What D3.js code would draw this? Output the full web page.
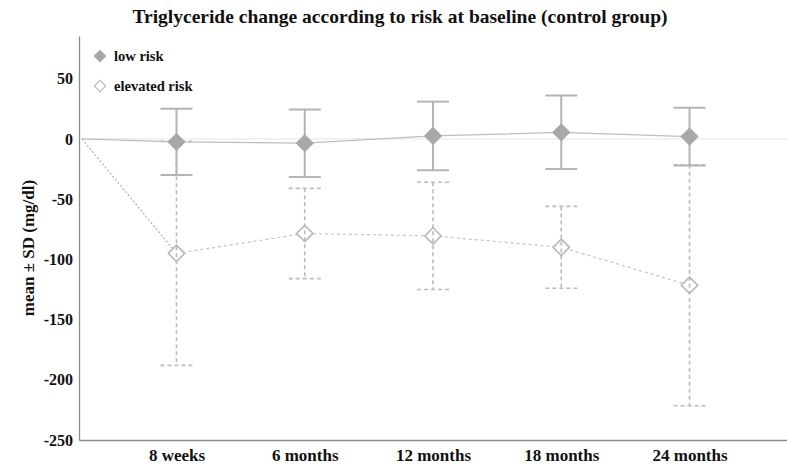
<!DOCTYPE html>
<html>
<head>
<meta charset="utf-8">
<script src="https://cdn.jsdelivr.net/npm/d3@7"></script>
<style>
  body { margin: 0; background: #fff; }
  text { font-family: "Liberation Serif", "Times New Roman", serif; fill: #111; }
</style>
</head>
<body>
<svg id="chart" width="787" height="469"></svg>
<script>
const categories = ['8 weeks', '6 months', '12 months', '18 months', '24 months']
const baselineValue = 0
const lowMean = [-2.5, -3.5, 2.5, 5.5, 2]
const lowSD = [27.5, 28, 28.5, 30.5, 24]
const elevMean = [-95, -78.5, -80.5, -90, -121.5]
const elevSD = [93, 37.5, 44.5, 34, 100]
const yTicks = [50, 0, -50, -100, -150, -200, -250]

const width = 787
const height = 469
const margin = { top: 36, right: 0, bottom: 29, left: 79 }

const svg = d3.select('#chart')

const x = d3.scalePoint()
    .domain(categories)
    .range([margin.left, width - margin.right])
    .padding(0.76)

const y = d3.scaleLinear()
    .domain([-250, 85.5])
    .range([height - margin.bottom, margin.top])

const x0 = margin.left + 3

// title
svg.append('text')
    .attr('x', 400)
    .attr('y', 23)
    .attr('text-anchor', 'middle')
    .style('font-size', '19.5px')
    .style('font-weight', 'bold')
    .text('Triglyceride change according to risk at baseline (control group)')

// y label
svg.append('text')
    .attr('transform', `translate(34, 248) rotate(-90)`)
    .attr('text-anchor', 'middle')
    .style('font-size', '17px')
    .style('font-weight', 'bold')
    .text('mean \u00b1 SD (mg/dl)')

// zero reference line
svg.append('line')
    .attr('x1', margin.left).attr('x2', width)
    .attr('y1', y(0)).attr('y2', y(0))
    .attr('stroke', '#e6e6e6').attr('stroke-width', 1)

// axes
const yAxis = svg.append('g')
    .attr('transform', `translate(${margin.left},0)`)
    .call(d3.axisLeft(y).tickValues(yTicks).tickFormat((d) => String(d)).tickSize(0).tickPadding(6))
yAxis.select('.domain').attr('stroke', '#8c8c8c').attr('stroke-width', 1.3)
yAxis.selectAll('text')
    .style('font-size', '16px')
    .style('font-weight', 'bold')
    .attr('fill', '#111')
    .style('font-family', '"Liberation Serif", serif')

const xAxis = svg.append('g')
    .attr('transform', `translate(0,${height - margin.bottom})`)
    .call(d3.axisBottom(x).tickSize(0).tickPadding(9))
xAxis.select('.domain').attr('stroke', '#8c8c8c').attr('stroke-width', 1.3)
xAxis.selectAll('text')
    .style('font-size', '17px')
    .style('font-weight', 'bold')
    .attr('fill', '#111')
    .style('font-family', '"Liberation Serif", serif')

const diamond = d3.symbol().type(d3.symbolDiamond2)

const lowData = categories.map((c, i) => ({ c, m: lowMean[i], sd: lowSD[i] }))
const elevData = categories.map((c, i) => ({ c, m: elevMean[i], sd: elevSD[i] }))

// elevated risk: connecting line
svg.append('line')
    .attr('x1', x0).attr('y1', y(baselineValue))
    .attr('x2', x(categories[0])).attr('y2', y(elevMean[0]))
    .attr('stroke', '#b4b4b4').attr('stroke-width', 1.3)
    .attr('stroke-dasharray', '2,2')
svg.append('path')
    .datum(elevData)
    .attr('fill', 'none')
    .attr('stroke', '#c4c4c4').attr('stroke-width', 1.2)
    .attr('stroke-dasharray', '3,3')
    .attr('d', d3.line().x((d) => x(d.c)).y((d) => y(d.m)))

// low risk: connecting line
svg.append('path')
    .datum([{ px: x0, m: baselineValue }].concat(lowData.map((d) => ({ px: x(d.c), m: d.m }))))
    .attr('fill', 'none')
    .attr('stroke', '#bdbdbd').attr('stroke-width', 1.2)
    .attr('d', d3.line().x((d) => d.px).y((d) => y(d.m)))

const capW = 16

const drawBars = (data, dashed, color) => {
    const g = svg.append('g')
        .attr('stroke', color)
        .attr('stroke-width', dashed ? 1.6 : 2)
        .attr('stroke-dasharray', dashed ? '4,3' : null)
    const bar = g.selectAll('g').data(data).enter().append('g')
    bar.append('line')
        .attr('x1', (d) => x(d.c)).attr('x2', (d) => x(d.c))
        .attr('y1', (d) => y(d.m + d.sd)).attr('y2', (d) => y(d.m - d.sd))
    bar.append('line')
        .attr('x1', (d) => x(d.c) - capW).attr('x2', (d) => x(d.c) + capW)
        .attr('y1', (d) => y(d.m + d.sd)).attr('y2', (d) => y(d.m + d.sd))
    bar.append('line')
        .attr('x1', (d) => x(d.c) - capW).attr('x2', (d) => x(d.c) + capW)
        .attr('y1', (d) => y(d.m - d.sd)).attr('y2', (d) => y(d.m - d.sd))
}

// elevated risk: hollow diamonds, bars drawn over them
svg.append('g').selectAll('path').data(elevData).enter().append('path')
    .attr('d', diamond.size(170))
    .attr('transform', (d) => `translate(${x(d.c)},${y(d.m)})`)
    .attr('fill', '#fff').attr('stroke', '#b8b8b8').attr('stroke-width', 1.6)
drawBars(elevData, true, '#bcbcbc')

// low risk: bars then filled diamonds
drawBars(lowData, false, '#b4b4b4')
svg.append('g').selectAll('path').data(lowData).enter().append('path')
    .attr('d', diamond.size(190))
    .attr('transform', (d) => `translate(${x(d.c)},${y(d.m)})`)
    .attr('fill', '#a8a8a8').attr('stroke', '#a8a8a8').attr('stroke-width', 1)

// legend
const legendItems = [
    { label: 'low risk', fill: '#a8a8a8', stroke: '#a8a8a8' },
    { label: 'elevated risk', fill: '#fff', stroke: '#bcbcbc' }
]
const legend = svg.append('g')
    .selectAll('g').data(legendItems).enter().append('g')
    .attr('transform', (d, i) => `translate(100, ${56 + i * 30})`)
legend.append('path')
    .attr('d', diamond.size(80))
    .attr('fill', (d) => d.fill)
    .attr('stroke', (d) => d.stroke)
    .attr('stroke-width', 1.2)
legend.append('text')
    .attr('x', 14)
    .attr('y', 4.5)
    .style('font-size', '14.5px')
    .style('font-weight', 'bold')
    .text((d) => d.label)
</script>
</body>
</html>
